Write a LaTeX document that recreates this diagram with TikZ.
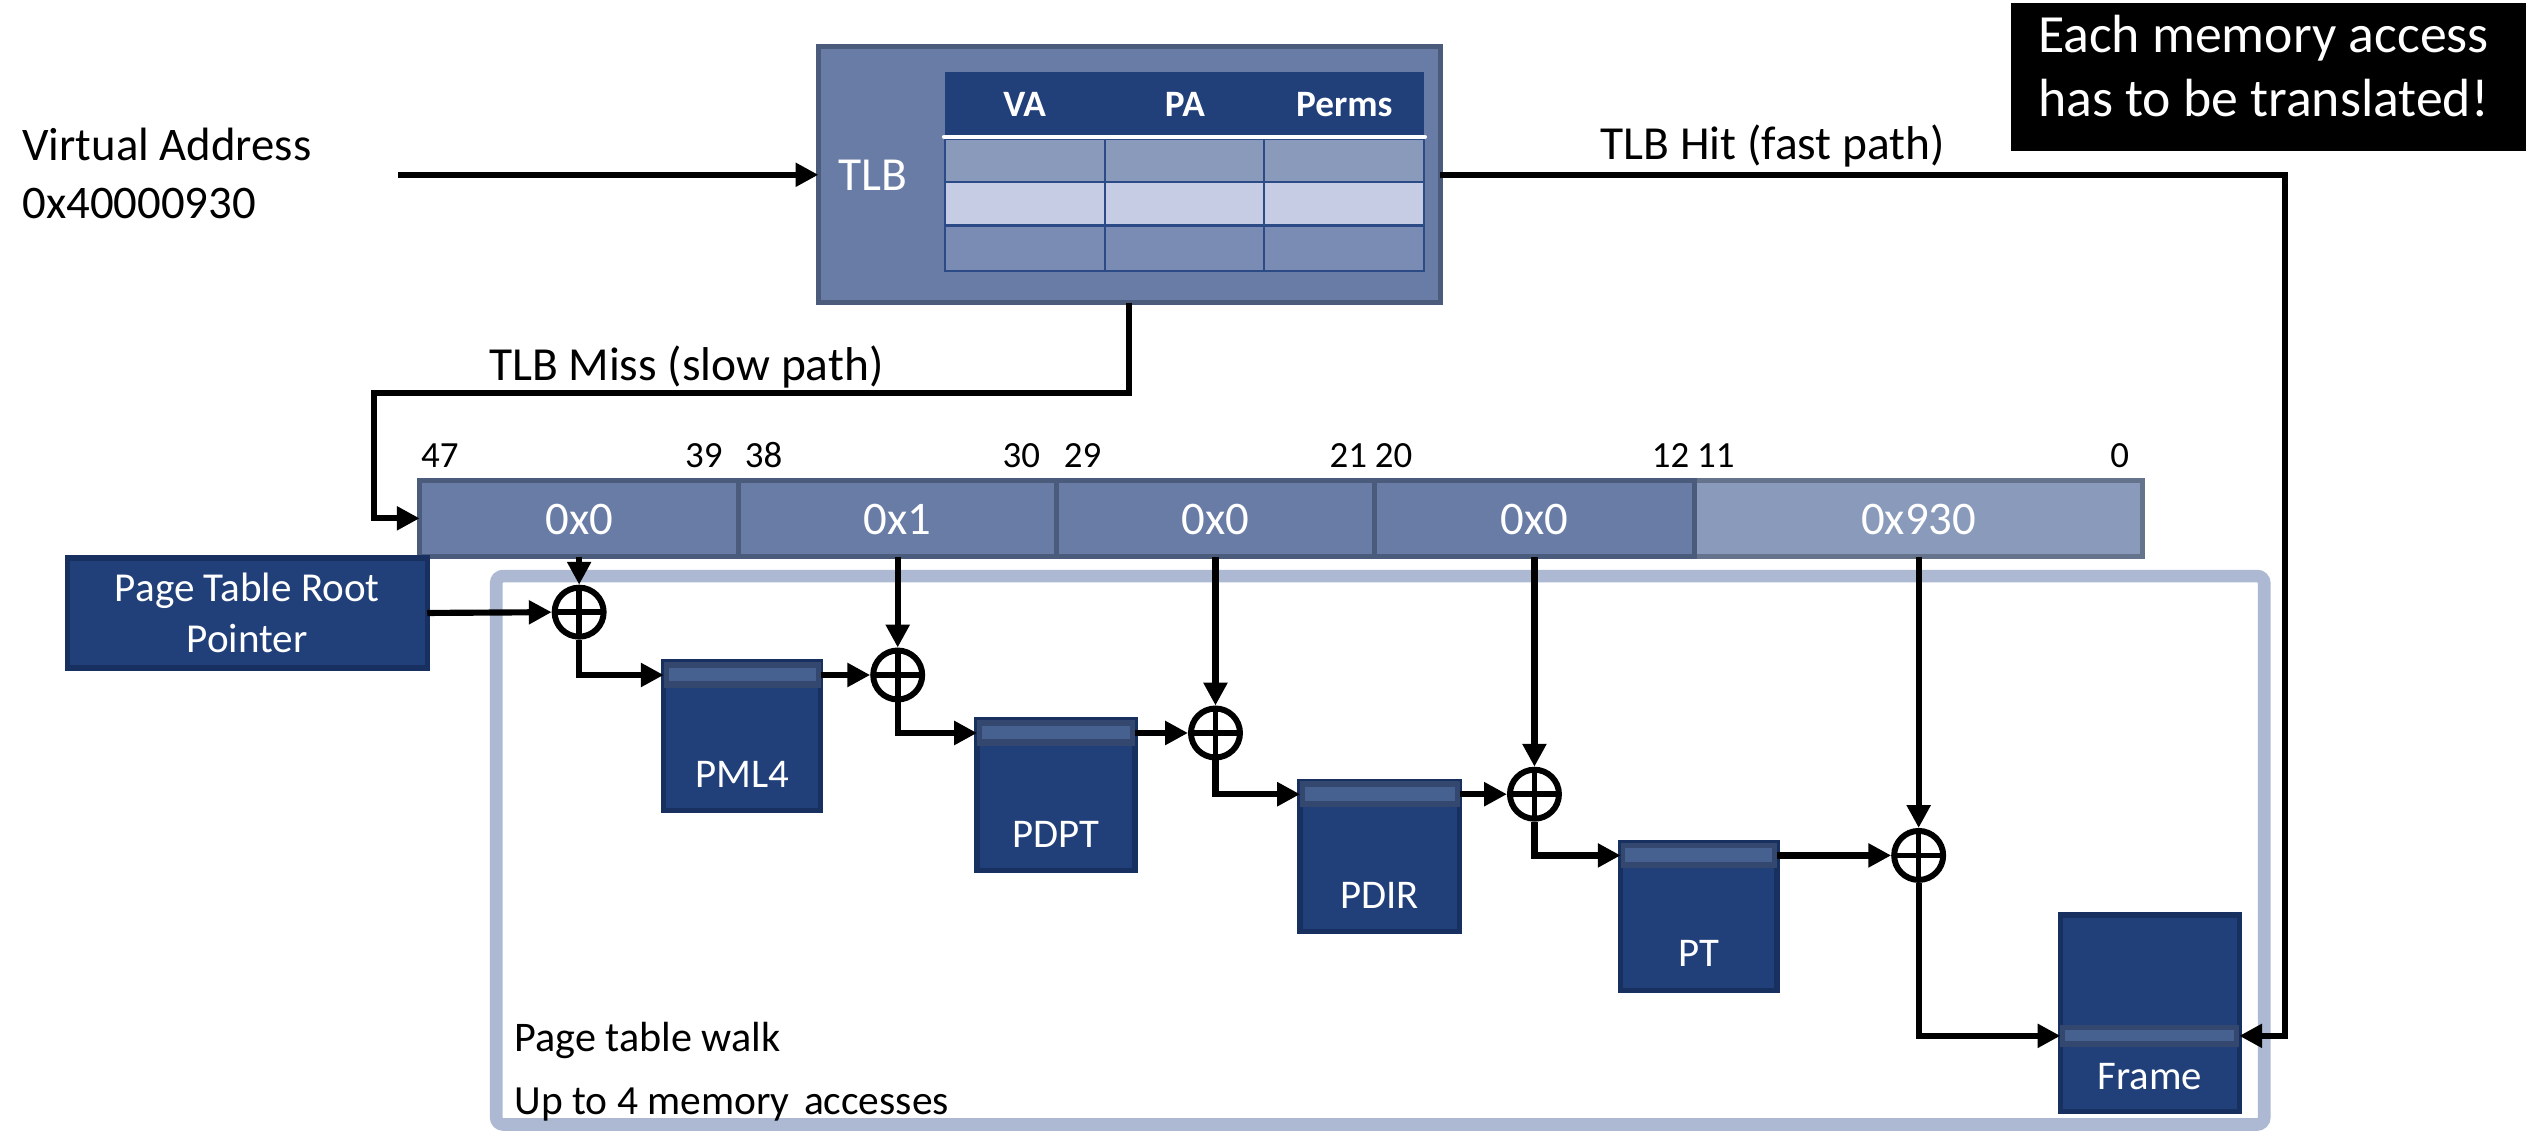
\documentclass[tikz,border=0pt]{standalone}
\usepackage{fontspec}
\setmainfont{Carlito}
\usetikzlibrary{arrows.meta,fit,calc}
\definecolor{midblue}{HTML}{687CA5}
\definecolor{midborder}{HTML}{4B5B7B}
\definecolor{navy}{HTML}{21407A}
\definecolor{navyborder}{HTML}{17305F}
\definecolor{bandc}{HTML}{34486F}
\definecolor{stripec}{HTML}{46608F}
\definecolor{lightseg}{HTML}{8A9ABA}
\definecolor{lightsegborder}{HTML}{66738D}
\definecolor{rowa}{HTML}{8A9ABA}
\definecolor{rowb}{HTML}{C6CCE3}
\definecolor{rowc}{HTML}{7A8CB4}
\definecolor{gridc}{HTML}{2B4A86}
\definecolor{walkc}{HTML}{ADB9D3}
\begin{document}
\begin{tikzpicture}[x=0.01611cm,y=-0.01611cm,
  box/.style={inner sep=0pt,outer sep=0pt},
  midbox/.style={box,fill=midblue,draw=midborder,line width=1.4pt},
  lsegbox/.style={box,fill=lightseg,draw=lightsegborder,line width=1.4pt},
  navybox/.style={box,fill=navy,draw=navyborder,line width=1.5pt},
  band/.style={box,fill=bandc},
  conn/.style={line width=1.75pt,black},
  arr/.style={conn,-{Triangle[length=6.5pt,width=6.5pt]}},
  oplus/.style={circle,draw,line width=1.7pt,fill=white,minimum size=0.49cm,inner sep=0pt,
     path picture={\draw[line width=1.6pt] (path picture bounding box.north)--(path picture bounding box.south) (path picture bounding box.west)--(path picture bounding box.east);}},
  txt/.style={inner sep=0pt,font=\fontsize{13.5}{16}\selectfont},
  lbl/.style={inner sep=0pt,text=white,font=\fontsize{11.6}{14}\selectfont},
  bit/.style={inner sep=0pt,font=\fontsize{10.5}{12}\selectfont},
  segtxt/.style={inner sep=0pt,text=white,font=\fontsize{13.3}{16}\selectfont},
  hdr/.style={inner sep=0pt,text=white,font=\fontsize{10.6}{12}\selectfont\bfseries},
]
\useasboundingbox (0,0) rectangle (1568,701.5);

% page table walk frame
\node[box,draw=walkc,line width=3.6pt,rounded corners=2pt,fit={(308,357.6)(1405.5,698)}] (walk) {};
\node[inner sep=0pt,anchor=base west,font=\fontsize{12}{14}\selectfont] (walk1) at (319,653) {Page table walk};
\node[inner sep=0pt,anchor=base west,font=\fontsize{11.8}{14}\selectfont] (walk2) at (319,692) {Up to 4 memory\hspace{0.12em} accesses};

% note
\node[box,fill=black,fit={(1248,2)(1568,94)}] (note) {};
\node[inner sep=0pt,text=white,align=center,font=\fontsize{15.3}{18.3}\selectfont] (notetext) at (1405,41) {Each memory access\\has to be translated!};

% virtual address
\node[txt,align=left,anchor=west,font=\fontsize{13.3}{16.3}\selectfont] (va) at (13.5,107.7) {Virtual Address\\0x40000930};
\coordinate (vastart) at (247,108.5);

% TLB
\node[midbox,fit={(508,29)(894,188)}] (tlb) {};
\fill[navy] (586.5,44.5) rectangle (884,84);
\fill[rowa] (586.5,86) rectangle (884,113);
\fill[rowb] (586.5,113) rectangle (884,140);
\fill[rowc] (586.5,140) rectangle (884,168.5);
\draw[gridc,line width=0.6pt] (586.5,86) rectangle (884,168.5)
  (586.5,113)--(884,113) (586.5,140)--(884,140)
  (686,86)--(686,168.5) (784.5,86)--(784.5,168.5);
\draw[white,line width=1.2pt,line cap=round] (586,85)--(884.5,85);
\node[hdr,anchor=base] (hva) at (636,72.5) {VA};
\node[hdr,anchor=base] (hpa) at (735.5,72.5) {PA};
\node[hdr,anchor=base] (hperm) at (834.5,72.5) {Perms};
\node[txt,text=white,anchor=base] (tlbl) at (542,118) {TLB};

% labels on paths
\node[txt,anchor=base] (hitl) at (1100.5,99) {TLB Hit (fast path)};
\node[txt,anchor=base] (missl) at (426,236) {TLB Miss (slow path)};
\coordinate (hitc) at (1418.5,108.5);
\coordinate (missc) at (232,244);

% address bar
\node[lsegbox,fit={(1052,298)(1330,345.5)}] (seg5) {};
\node[midbox,fit={(260.5,298)(458.5,345.5)}] (seg1) {};
\node[midbox,fit={(458.5,298)(656,345.5)}] (seg2) {};
\node[midbox,fit={(656,298)(853,345.5)}] (seg3) {};
\node[midbox,fit={(853,298)(1052,345.5)}] (seg4) {};
\node[segtxt,anchor=base] (v1) at (359.5,332) {0x0};
\node[segtxt,anchor=base] (v2) at (557.25,332) {0x1};
\node[segtxt,anchor=base] (v3) at (754.5,332) {0x0};
\node[segtxt,anchor=base] (v4) at (952.5,332) {0x0};
\node[segtxt,anchor=base] (v5) at (1191,332) {0x930};

\node[bit,anchor=base west] (b47) at (261,290.5) {47};
\node[bit,anchor=base east] (b39) at (449,290.5) {39};
\node[bit,anchor=base west] (b38) at (462,290.5) {38};
\node[bit,anchor=base east] (b30) at (646,290.5) {30};
\node[bit,anchor=base west] (b29) at (660,290.5) {29};
\node[bit,anchor=base east] (b21) at (849,290.5) {21};
\node[bit,anchor=base west] (b20) at (853,290.5) {20};
\node[bit,anchor=base east] (b12) at (1049,290.5) {12};
\node[bit,anchor=base west] (b11) at (1053,290.5) {11};
\node[bit,anchor=base east] (b0) at (1322,290.5) {0};

% root pointer
\node[navybox,minimum width=3.6cm,minimum height=1.1cm,align=center,text=white,font=\fontsize{11.7}{14.65}\selectfont] (root) at (153.5,380.5) {Page Table Root\\Pointer};

% adders
\node[oplus] (c1) at (359.5,380) {};
\node[oplus] (c2) at (557.25,419) {};
\node[oplus] (c3) at (754.5,455) {};
\node[oplus] (c4) at (952.5,493) {};
\node[oplus] (c5) at (1191,531) {};

% page tables
\node[navybox,fit={(412,411)(509.5,503)}] (pml4) {};
\node[band,fit={(412,411)(509.5,427)}] (pml4s) {};
\fill[stripec] ($(pml4s.north west)+(3,3.5)$) rectangle ($(pml4s.south east)+(-3,-4)$);
\node[lbl,anchor=base] (pml4l) at (460.75,489) {PML4};

\node[navybox,fit={(606.5,447)(704.5,540.5)}] (pdpt) {};
\node[band,fit={(606.5,447)(704.5,463)}] (pdpts) {};
\fill[stripec] ($(pdpts.north west)+(3,3.5)$) rectangle ($(pdpts.south east)+(-3,-4)$);
\node[lbl,anchor=base] (pdptl) at (655.5,526) {PDPT};

\node[navybox,fit={(807,485)(906,578)}] (pdir) {};
\node[band,fit={(807,485)(906,501)}] (pdirs) {};
\fill[stripec] ($(pdirs.north west)+(3,3.5)$) rectangle ($(pdirs.south east)+(-3,-4)$);
\node[lbl,anchor=base] (pdirl) at (856.5,564) {PDIR};

\node[navybox,fit={(1006,523)(1103,615)}] (pt) {};
\node[band,fit={(1006,523)(1103,539)}] (pts) {};
\fill[stripec] ($(pts.north west)+(3,3.5)$) rectangle ($(pts.south east)+(-3,-4)$);
\node[lbl,anchor=base] (ptl) at (1054.5,600) {PT};

\node[navybox,fit={(1279,568)(1390,690)}] (frame) {};
\node[band,fit={(1279,636)(1390,650)}] (frames) {};
\fill[stripec] ($(frames.north west)+(3,3.5)$) rectangle ($(frames.south east)+(-3,-3.5)$);
\node[lbl,anchor=base] (framel) at (1334.5,676) {Frame};

% connectors
\draw[arr] (vastart) -- (tlb.west);
\draw[arr] (tlb.east) -- (hitc) |- (frames.east);
\draw[arr] (tlb.south) |- (missc) |- (seg1.west);
\draw[arr] (root.east) -- (c1.west);
\draw[arr] (seg1.south) -- (c1.north);
\draw[arr] (seg2.south) -- (c2.north);
\draw[arr] (seg3.south) -- (c3.north);
\draw[arr] (seg4.south) -- (c4.north);
\draw[arr] (seg5.south) -- (c5.north);
\draw[arr] (c1.south) |- (pml4s.west);
\draw[arr] (pml4s.east) -- (c2.west);
\draw[arr] (c2.south) |- (pdpts.west);
\draw[arr] (pdpts.east) -- (c3.west);
\draw[arr] (c3.south) |- (pdirs.west);
\draw[arr] (pdirs.east) -- (c4.west);
\draw[arr] (c4.south) |- (pts.west);
\draw[arr] (pts.east) -- (c5.west);
\draw[arr] (c5.south) |- (frames.west);
\end{tikzpicture}
\end{document}
